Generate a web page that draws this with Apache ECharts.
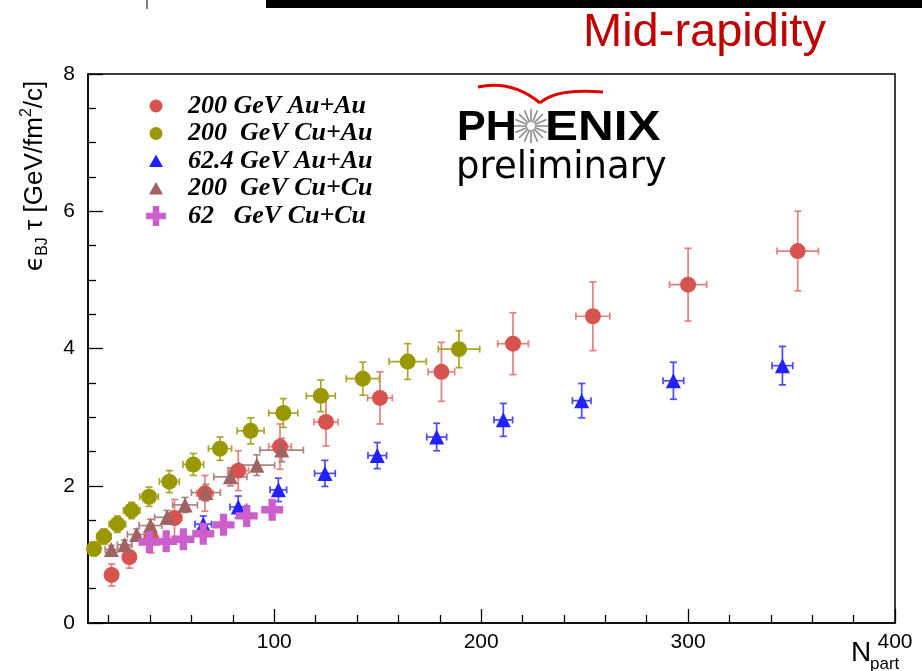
<!DOCTYPE html>
<html><head><meta charset="utf-8">
<script src="https://cdn.jsdelivr.net/npm/echarts@6/dist/echarts.min.js"></script>
<style>html,body{margin:0;padding:0;background:#fff}#c{width:922px;height:671px}</style>
</head><body><div id="c"></div>
<script>
// ---- data ----
const seriesNames = ['200 GeV Au+Au', '200  GeV Cu+Au', '62.4 GeV Au+Au', '200  GeV Cu+Cu', '62   GeV Cu+Cu'];

const auau200_x  = [21.4, 30.0, 40.5, 51.8, 66.5, 82.6, 102.8, 125.0, 151.1, 180.8, 215.4, 254.0, 300.0, 353.0];
const auau200_y  = [0.70, 0.96, 1.23, 1.53, 1.89, 2.22, 2.57, 2.93, 3.28, 3.66, 4.07, 4.47, 4.93, 5.42];
const auau200_ex = [2.0, 2.5, 3.0, 3.5, 4.0, 5.0, 5.5, 5.8, 6.0, 6.4, 7.4, 8.2, 9.0, 10.0];
const auau200_ey = [0.16, 0.16, 0.21, 0.27, 0.26, 0.29, 0.33, 0.35, 0.38, 0.43, 0.45, 0.50, 0.53, 0.58];

const cuau200_x  = [12.9, 17.7, 24.2, 31.1, 39.5, 49.3, 60.9, 73.8, 88.6, 104.4, 122.5, 142.8, 164.5, 189.3];
const cuau200_y  = [1.08, 1.26, 1.44, 1.64, 1.84, 2.06, 2.31, 2.54, 2.80, 3.06, 3.31, 3.56, 3.81, 3.99];
const cuau200_ex = [3.0, 3.5, 4.0, 4.0, 4.5, 4.8, 5.0, 5.6, 6.5, 7.0, 7.0, 8.0, 9.0, 10.0];
const cuau200_ey = [0.10, 0.11, 0.12, 0.12, 0.14, 0.16, 0.16, 0.17, 0.19, 0.21, 0.23, 0.24, 0.26, 0.27];

const auau62_x  = [65.7, 82.6, 102.0, 124.5, 149.8, 178.5, 210.7, 248.6, 292.9, 345.6];
const auau62_y  = [1.44, 1.69, 1.94, 2.18, 2.44, 2.71, 2.96, 3.24, 3.53, 3.75];
const auau62_ex = [4.0, 4.0, 4.0, 5.0, 4.5, 4.8, 4.5, 4.5, 5.0, 5.0];
const auau62_ey = [0.12, 0.16, 0.17, 0.19, 0.19, 0.20, 0.24, 0.25, 0.27, 0.28];

const cucu200_x  = [21.3, 27.7, 33.5, 40.2, 48.2, 56.9, 67.0, 78.8, 91.6, 103.6];
const cucu200_y  = [1.07, 1.14, 1.29, 1.42, 1.54, 1.72, 1.90, 2.13, 2.30, 2.52];
const cucu200_ex = [3.0, 3.5, 4.5, 5.5, 6.0, 6.0, 7.0, 8.0, 8.6, 10.5];
const cucu200_ey = [0.06, 0.07, 0.08, 0.09, 0.10, 0.11, 0.12, 0.13, 0.15, 0.17];

const cucu62_x = [39.7, 47.8, 56.1, 65.7, 75.5, 86.7, 99.0];
const cucu62_y = [1.18, 1.19, 1.22, 1.30, 1.43, 1.56, 1.65];

const xMinorTicks = [20, 40, 60, 80, 120, 140, 160, 180, 220, 240, 260, 280, 320, 340, 360, 380];
const xMajorTicks = [100, 200, 300, 400];

// ---- styles ----
const PLUS = 'path://M-1,-3H1V-1H3V1H1V3H-1V1H-3V-1H-1Z';
const BOX = 'M-11,-11M11,11';
const ICON_CIRCLE = 'path://' + BOX + 'M-6.5,0A6.5,6.5,0,1,0,6.5,0A6.5,6.5,0,1,0,-6.5,0Z';
const ICON_TRI = 'path://' + BOX + 'M0,-6.5L7,6L-7,6Z';
const ICON_PLUS = 'path://' + BOX + 'M-3.3,-10H3.3V-3.3H10V3.3H3.3V10H-3.3V3.3H-10V-3.3H-3.3Z';
const legendIcons = [ICON_CIRCLE, ICON_CIRCLE, ICON_TRI, ICON_TRI, ICON_PLUS];

const colors = {
  red: ['#d6534f', '#e3817d'],
  olive: ['#9a9800', '#a9a62c'],
  blue: ['#2222ff', '#4a4aff'],
  brown: ['#9f6461', '#ad8482'],
  mag: ['#cc5fcc', '#cc5fcc']
};

function errSeries(xs, ys, ex, ey, color) {
  return {
    type: 'custom', silent: true, z: 2,
    data: xs.map((x, i) => [x, ys[i], ex[i], ey[i]]),
    encode: { x: 0, y: 1 },
    renderItem: function (params, api) {
      const x = api.value(0), y = api.value(1), dx = api.value(2), dy = api.value(3);
      const t = api.coord([x, y + dy]), b = api.coord([x, y - dy]);
      const l = api.coord([x - dx, y]), r = api.coord([x + dx, y]);
      const c = 3.5;
      const segs = [
        [t[0], t[1], b[0], b[1]],
        [t[0] - c, t[1], t[0] + c, t[1]],
        [b[0] - c, b[1], b[0] + c, b[1]],
        [l[0], l[1], r[0], r[1]],
        [l[0], l[1] - c, l[0], l[1] + c],
        [r[0], r[1] - c, r[0], r[1] + c]
      ];
      return {
        type: 'group',
        children: segs.map(p => ({
          type: 'line',
          shape: { x1: p[0], y1: p[1], x2: p[2], y2: p[3] },
          style: { stroke: color, lineWidth: 1.7 }
        }))
      };
    }
  };
}
function dotSeries(name, xs, ys, symbol, size, color) {
  return {
    type: 'scatter', name: name, z: 3,
    data: xs.map((x, i) => [x, ys[i]]),
    symbol: symbol, symbolSize: size,
    itemStyle: { color: color, opacity: 1 },
    emphasis: { disabled: true }
  };
}

const series = [
  errSeries(auau200_x, auau200_y, auau200_ex, auau200_ey, colors.red[1]),
  dotSeries(seriesNames[0], auau200_x, auau200_y, 'circle', 16, colors.red[0]),
  errSeries(cuau200_x, cuau200_y, cuau200_ex, cuau200_ey, colors.olive[1]),
  dotSeries(seriesNames[1], cuau200_x, cuau200_y, 'circle', 16, colors.olive[0]),
  errSeries(auau62_x, auau62_y, auau62_ex, auau62_ey, colors.blue[1]),
  dotSeries(seriesNames[2], auau62_x, auau62_y, 'triangle', 15, colors.blue[0]),
  errSeries(cucu200_x, cucu200_y, cucu200_ex, cucu200_ey, colors.brown[1]),
  dotSeries(seriesNames[3], cucu200_x, cucu200_y, 'triangle', 15, colors.brown[0]),
  dotSeries(seriesNames[4], cucu62_x, cucu62_y, PLUS, 22, colors.mag[0])
];

// ---- decorations (logo, labels) ----
const rays = [];
const cx = 531, cy = 126;
for (let k = 0; k < 16; k++) {
  const a = k * Math.PI / 8;
  rays.push({
    type: 'line', silent: true,
    shape: { x1: cx + 4 * Math.cos(a), y1: cy + 4 * Math.sin(a), x2: cx + 17 * Math.cos(a), y2: cy + 17 * Math.sin(a) },
    style: { stroke: '#8c8c8c', lineWidth: 1.6 }
  });
}

const option = {
  animation: false,
  backgroundColor: '#fff',
  grid: { left: 88, right: 27, top: 74, bottom: 48, show: true, borderColor: '#000', borderWidth: 1.5, backgroundColor: 'transparent' },
  xAxis: [
    {
      type: 'value', min: 10, max: 400,
      axisLine: { show: true, lineStyle: { color: '#000', width: 1.5 } },
      axisTick: { show: true, inside: true, length: 8, customValues: xMinorTicks, lineStyle: { color: '#000', width: 1.3 } },
      axisLabel: { show: false },
      splitLine: { show: false }
    },
    {
      type: 'value', min: 10, max: 400, position: 'bottom',
      axisLine: { show: false },
      axisTick: { show: true, inside: true, length: 14, customValues: xMajorTicks, lineStyle: { color: '#000', width: 1.3 } },
      axisLabel: { show: true, customValues: xMajorTicks, fontFamily: 'Liberation Sans', fontSize: 21, color: '#000', margin: 9 },
      splitLine: { show: false }
    }
  ],
  yAxis: {
    type: 'value', min: 0, max: 8, interval: 2,
    axisLine: { show: true, lineStyle: { color: '#000', width: 1.5 } },
    axisTick: { show: true, inside: true, length: 15, lineStyle: { color: '#000', width: 1.3 } },
    minorTick: { show: true, splitNumber: 4, length: 8, lineStyle: { color: '#000', width: 1.3 } },
    axisLabel: { fontFamily: 'Liberation Sans', fontSize: 21, color: '#000', margin: 13 },
    splitLine: { show: false }
  },
  legend: {
    data: seriesNames.map((n, i) => ({ name: n, icon: legendIcons[i] })),
    orient: 'vertical', left: 145, top: 93, padding: 0,
    itemWidth: 22, itemHeight: 22, itemGap: 1.5, selectedMode: false, symbolKeepAspect: true,
    textStyle: { fontFamily: 'Liberation Serif', fontStyle: 'italic', fontWeight: 'bold', fontSize: 26, lineHeight: 26, color: '#000', padding: [0, 0, 0, 16] }
  },
  graphic: [
    { type: 'rect', silent: true, shape: { x: 266, y: 0, width: 656, height: 8 }, style: { fill: '#000' } },
    { type: 'line', silent: true, shape: { x1: 147, y1: 0, x2: 147, y2: 9 }, style: { stroke: '#000', lineWidth: 1 } },
    { type: 'text', silent: true, x: 583, y: 33, style: { text: 'Mid-rapidity', fill: '#c00000', font: '47px "Liberation Sans"', textAlign: 'left', textVerticalAlign: 'middle' } },
    {
      type: 'text', silent: true, x: 35, y: 176, rotation: Math.PI / 2,
      style: {
        text: '{e|ϵ}{s|BJ}{m| τ [GeV/fm}{p|2}{m|/c]}',
        textAlign: 'center', textVerticalAlign: 'middle', fill: '#000',
        rich: {
          e: { fontFamily: 'DejaVu Sans', fontSize: 25, lineHeight: 32, verticalAlign: 'middle', fill: '#000' },
          m: { fontFamily: 'Liberation Sans', fontSize: 26, lineHeight: 32, verticalAlign: 'middle', fill: '#000' },
          s: { fontFamily: 'Liberation Sans', fontSize: 16, lineHeight: 16, verticalAlign: 'bottom', fill: '#000' },
          p: { fontFamily: 'Liberation Sans', fontSize: 16, lineHeight: 16, verticalAlign: 'top', fill: '#000' }
        }
      }
    },
    { type: 'text', silent: true, x: 851, y: 653, style: { text: 'N', fill: '#000', font: '28px "Liberation Sans"', textAlign: 'left', textVerticalAlign: 'middle' } },
    { type: 'text', silent: true, x: 870, y: 664, style: { text: 'part', fill: '#000', font: '17px "Liberation Sans"', textAlign: 'left', textVerticalAlign: 'middle' } },
    // PHENIX logo
    { type: 'bezierCurve', silent: true, shape: { x1: 478, y1: 87, cpx1: 512, cpy1: 80, x2: 540, y2: 103 }, style: { stroke: '#e00000', lineWidth: 3, fill: null } },
    { type: 'bezierCurve', silent: true, shape: { x1: 540, y1: 103, cpx1: 556, cpy1: 88, x2: 603, y2: 92 }, style: { stroke: '#e00000', lineWidth: 3, fill: null } },
    { type: 'text', silent: true, x: 457, y: 128, style: { text: 'PH', fill: '#000', font: 'bold 43px "Liberation Sans"', textAlign: 'left', textVerticalAlign: 'middle' } },
    { type: 'text', silent: true, x: 545, y: 128, scaleX: 1.15, style: { text: 'ENIX', fill: '#000', font: 'bold 43px "Liberation Sans"', textAlign: 'left', textVerticalAlign: 'middle' } },
    ...rays,
    { type: 'text', silent: true, x: 456, y: 168, style: { text: 'preliminary', fill: '#000', font: '37px "DejaVu Sans"', textAlign: 'left', textVerticalAlign: 'middle' } }
  ],
  series: series
};

const chart = echarts.init(document.getElementById('c'));
chart.setOption(option);
</script>
</body></html>
